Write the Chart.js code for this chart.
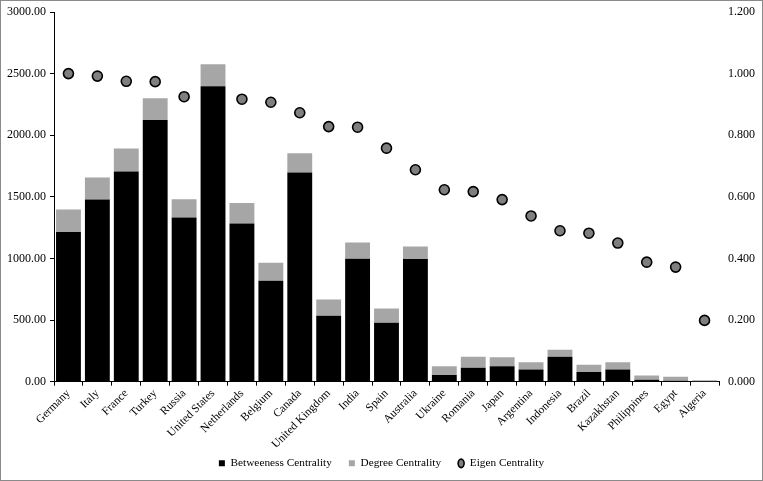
<!DOCTYPE html>
<html>
<head>
<meta charset="utf-8">
<script src="https://cdn.jsdelivr.net/npm/chart.js@4"></script>
<style>
  html, body { margin: 0; padding: 0; background: #fff; }
  #wrap { width: 763px; height: 481px; }
</style>
</head>
<body>
<div id="wrap"><canvas id="centralityChart" width="763" height="481"></canvas></div>
<script>
// 數據
const countries = ['Germany', 'Italy', 'France', 'Turkey', 'Russia', 'United States', 'Netherlands',
    'Belgium', 'Canada', 'United Kingdom', 'India', 'Spain', 'Australia', 'Ukraine', 'Romania',
    'Japan', 'Argentina', 'Indonesia', 'Brazil', 'Kazakhstan', 'Philippines', 'Egypt', 'Algeria'];
const betweenness = [1215, 1478, 1706, 2124, 1332, 2398, 1283, 819, 1698, 535, 998, 478, 995,
    54, 114, 125, 98, 203, 79, 100, 16, 8, 3];
const degree = [182, 179, 187, 176, 149, 179, 168, 147, 155, 132, 131, 116, 103,
    71, 89, 73, 59, 57, 59, 57, 35, 33, 9];
const eigen = [1.000, 0.992, 0.975, 0.974, 0.925, null, 0.917, 0.907, 0.873, 0.828, 0.826, 0.758, 0.688,
    0.623, 0.617, 0.591, 0.538, 0.490, 0.482, 0.450, 0.388, 0.372, 0.199];
const leftMax = 3000;
const rightMax = 1.2;

const serif = "'Liberation Serif', 'Times New Roman', serif";
Chart.defaults.font.family = serif;
Chart.defaults.font.size = 12;
Chart.defaults.color = '#000';

// 外框和白色背景
const framePlugin = {
    id: 'frame',
    beforeDraw(chart) {
        const c = chart.ctx;
        c.save();
        c.fillStyle = '#fff';
        c.fillRect(0, 0, chart.width, chart.height);
        c.restore();
    },
    afterDraw(chart) {
        const c = chart.ctx;
        c.save();
        c.strokeStyle = '#8a8a8a';
        c.lineWidth = 1;
        c.strokeRect(0.5, 0.5, chart.width - 1, chart.height - 1);
        c.restore();
    }
};

new Chart(document.getElementById('centralityChart'), {
    type: 'bar',
    data: {
        labels: countries,
        datasets: [{
            label: 'Betweeness Centrality',
            data: betweenness,
            backgroundColor: '#000000',
            categoryPercentage: 1,
            barPercentage: 0.86,
            pointStyle: 'rect',
            order: 2
        }, {
            label: 'Degree Centrality',
            data: degree,
            backgroundColor: '#a6a6a6',
            categoryPercentage: 1,
            barPercentage: 0.86,
            pointStyle: 'rect',
            order: 2
        }, {
            type: 'line',
            label: 'Eigen Centrality',
            data: eigen,
            yAxisID: 'y1',
            showLine: false,
            pointStyle: 'circle',
            pointRadius: 5,
            pointBorderWidth: 1.6,
            pointBackgroundColor: '#7f7f7f',
            pointBorderColor: '#000',
            backgroundColor: '#7f7f7f',
            borderColor: '#000',
            borderWidth: 1.6,
            order: 1
        }]
    },
    options: {
        responsive: false,
        animation: false,
        layout: { padding: { top: 12, left: 0, right: 0, bottom: 2 } },
        plugins: {
            tooltip: { enabled: false },
            legend: {
                position: 'bottom',
                labels: {
                    usePointStyle: true,
                    boxHeight: 6,
                    pointStyleWidth: 6,
                    padding: 17,
                    color: '#000',
                    font: { family: serif, size: 11.3 },
                    sort: (a, b) => a.datasetIndex - b.datasetIndex
                }
            }
        },
        scales: {
            x: {
                stacked: true,
                grid: { display: true, drawOnChartArea: false, drawTicks: true, tickLength: 4, color: '#000', offset: true },
                border: { display: true, color: '#000', width: 1 },
                ticks: { maxRotation: 45, minRotation: 45, autoSkip: false, padding: 1, color: '#000', font: { size: 11.5 } },
                afterFit(scale) {
                    scale.height = 59;
                    // 讓長標籤不被裁切
                    scale._computeLabelArea = () => undefined;
                }
            },
            y: {
                stacked: true,
                min: 0,
                max: leftMax,
                grid: { display: true, drawOnChartArea: false, drawTicks: true, tickLength: 4, color: '#000' },
                border: { display: true, color: '#000', width: 1 },
                ticks: {
                    stepSize: 500,
                    padding: 4,
                    color: '#000',
                    callback: v => v.toFixed(2)
                },
                afterFit(scale) {
                    scale.width = 54;
                    scale.paddingTop = 0;
                    scale.paddingBottom = 0;
                }
            },
            y1: {
                position: 'right',
                min: 0,
                max: rightMax,
                grid: { display: false, drawTicks: false },
                border: { display: false },
                ticks: {
                    stepSize: 0.2,
                    padding: 9,
                    color: '#000',
                    callback: v => v.toFixed(3)
                },
                afterFit(scale) {
                    scale.width = 44;
                    scale.paddingTop = 0;
                    scale.paddingBottom = 0;
                }
            }
        }
    },
    plugins: [framePlugin]
});
</script>
</body>
</html>
